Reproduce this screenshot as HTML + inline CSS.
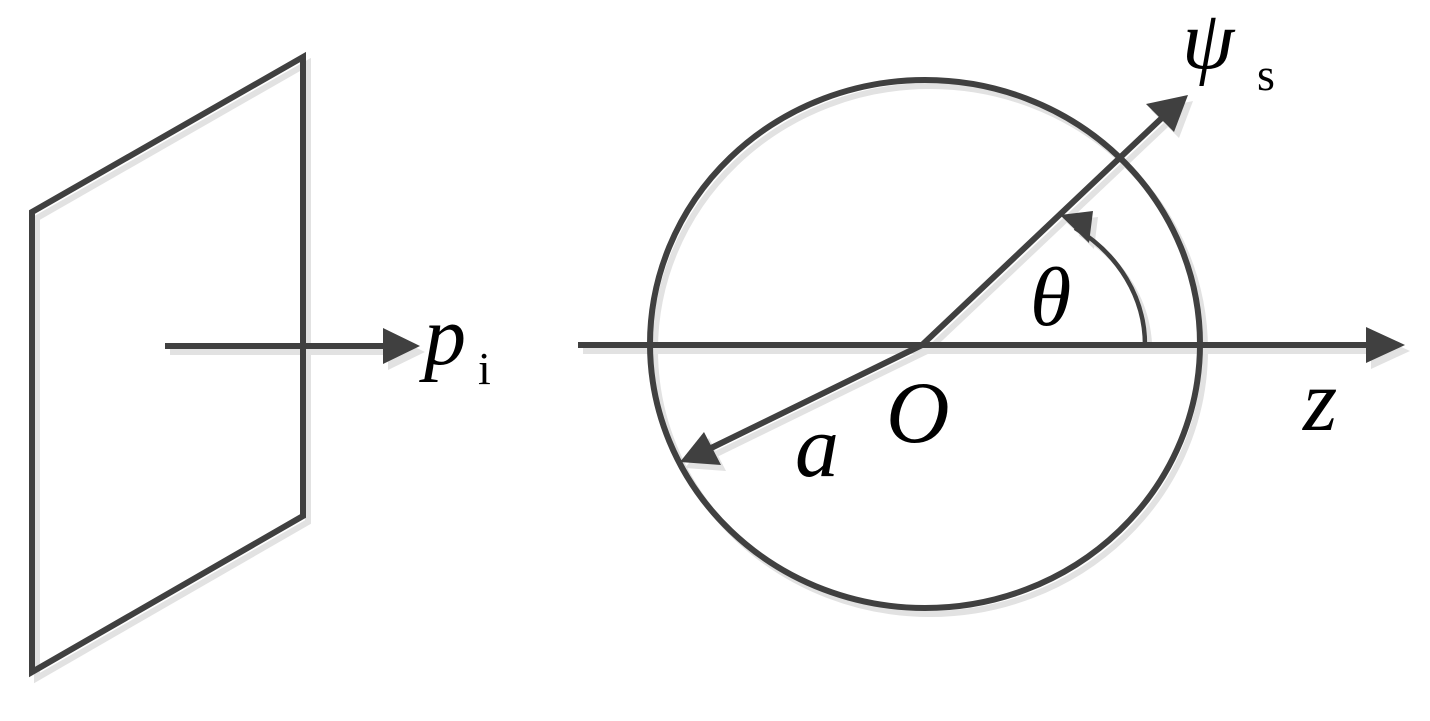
<!DOCTYPE html>
<html><head><style>html,body{margin:0;padding:0;background:#fff;}svg{display:block}</style></head>
<body>
<svg width="1430" height="721" viewBox="0 0 1430 721" xmlns="http://www.w3.org/2000/svg">
<defs>
<g id="d" fill="none" stroke="currentColor" stroke-linejoin="miter">
  <polygon points="32,212 303,57 303,516 32,672" stroke-width="6"/>
  <line x1="165" y1="346" x2="390" y2="346" stroke-width="6"/>
  <polygon points="420,346 383,328 383,364" stroke="none" fill="currentColor"/>
  <ellipse cx="925" cy="344" rx="275" ry="264" stroke-width="6"/>
  <line x1="578" y1="345" x2="1370" y2="345" stroke-width="6"/>
  <polygon points="1405,345 1366,327 1366,363" stroke="none" fill="currentColor"/>
  <polyline points="922,345 1165,115" stroke-width="6"/>
  <polygon points="1188,95 1146,104 1174,132" stroke="none" fill="currentColor"/>
  <polyline points="922,345 705,451" stroke-width="6"/>
  <polygon points="680,462 704,432 721,465" stroke="none" fill="currentColor"/>
  <path d="M1145,345 A155,140 0 0 0 1075,228" stroke-width="4.5"/>
  <polygon points="1060,215 1093,211 1089,243" stroke="none" fill="currentColor"/>
</g>
</defs>
<g transform="translate(5,6)" style="color:#e2e2e2"><use href="#d"/></g>
<g style="color:#404040"><use href="#d"/></g>
<g font-family="'Liberation Serif',serif" fill="#000">
  <text x="424" y="364" font-size="84" font-style="italic">p</text>
  <text x="478" y="384" font-size="46">i</text>
  <text x="1182" y="68" font-size="84" font-style="italic">ψ</text>
  <text x="1257" y="90" font-size="46">s</text>
  <text x="1030" y="325" font-size="84" font-style="italic">θ</text>
  <text x="886" y="442" font-size="88" font-style="italic">O</text>
  <text x="795" y="476" font-size="88" font-style="italic">a</text>
  <text x="1303" y="430" font-size="88" font-style="italic">z</text>
</g>
</svg>
</body></html>
